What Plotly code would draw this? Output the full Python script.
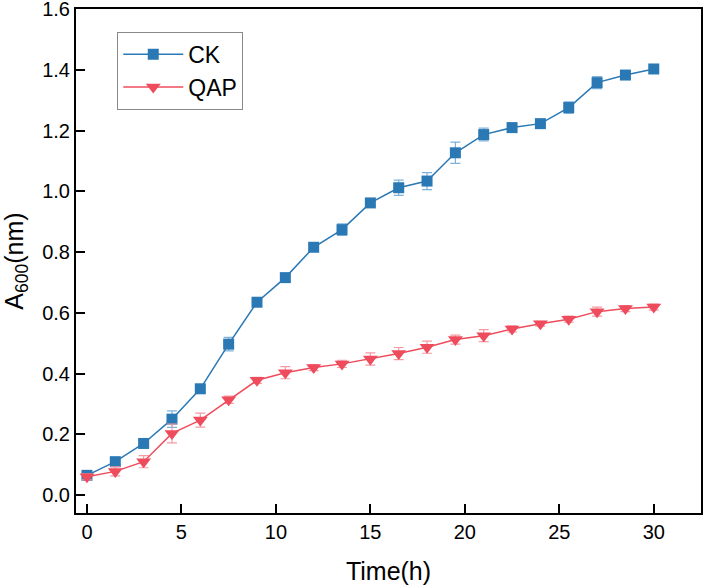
import plotly.graph_objects as go

time_h = [0, 1.5, 3, 4.5, 6, 7.5, 9, 10.5, 12, 13.5, 15, 16.5, 18, 19.5, 21, 22.5, 24, 25.5, 27, 28.5, 30]
ck = [0.065, 0.11, 0.17, 0.25, 0.35, 0.497, 0.635, 0.716, 0.816, 0.874, 0.962, 1.012, 1.034, 1.127, 1.187, 1.21, 1.223, 1.276, 1.358, 1.383, 1.403]
ck_err = [0.01, 0.01, 0.01, 0.027, 0.01, 0.022, 0.008, 0.008, 0.008, 0.019, 0.008, 0.025, 0.028, 0.035, 0.021, 0.008, 0.008, 0.019, 0.02, 0.01, 0.008]
qap = [0.06, 0.078, 0.11, 0.203, 0.247, 0.314, 0.378, 0.403, 0.42, 0.432, 0.448, 0.466, 0.487, 0.512, 0.525, 0.547, 0.564, 0.579, 0.604, 0.614, 0.619]
qap_err = [0.01, 0.015, 0.02, 0.031, 0.023, 0.012, 0.01, 0.02, 0.01, 0.012, 0.02, 0.02, 0.02, 0.015, 0.02, 0.01, 0.008, 0.01, 0.015, 0.01, 0.01]

ck_color = "#2a78b4"
qap_color = "#ee4c5c"

fig = go.Figure()
fig.add_trace(go.Scatter(
    x=time_h, y=ck, name="CK", mode="lines+markers",
    line=dict(color=ck_color, width=1.5),
    marker=dict(symbol="square", size=11, color=ck_color),
    error_y=dict(type="data", array=ck_err, color="#7fb2da", thickness=1.2, width=5),
))
fig.add_trace(go.Scatter(
    x=time_h, y=qap, name="QAP", mode="lines+markers",
    line=dict(color=qap_color, width=1.5),
    marker=dict(symbol="triangle-down", size=13, color=qap_color),
    error_y=dict(type="data", array=qap_err, color="#f59aa3", thickness=1.2, width=5),
))

axis_common = dict(
    showline=True, linecolor="black", linewidth=2, mirror=True,
    ticks="inside", ticklen=9, tickwidth=2, tickcolor="black",
    showgrid=False, zeroline=False, ticklabeloverflow="allow", automargin=False,
    tickfont=dict(family="Liberation Sans, Arial", size=20, color="black"),
)

fig.update_layout(
    width=703, height=586,
    margin=dict(l=76, r=2, t=9, b=73, autoexpand=False),
    paper_bgcolor="white", plot_bgcolor="white",
    font=dict(family="Liberation Sans, Arial", color="black"),
    showlegend=True,
    legend=dict(
        x=0.066, y=0.955, xanchor="left", yanchor="top",
        bordercolor="#888888", borderwidth=1,
        font=dict(size=23, color="black"),
        itemwidth=60, tracegroupgap=0,
    ),
    xaxis=dict(
        range=[-0.58, 32.5], tickvals=[0, 5, 10, 15, 20, 25, 30],
        title=dict(text="Time(h)", font=dict(size=25), standoff=20),
        **axis_common,
    ),
    yaxis=dict(
        range=[-0.059, 1.6005], tickvals=[0, 0.2, 0.4, 0.6, 0.8, 1.0, 1.2, 1.4, 1.6],
        tickformat=".1f",
        title=dict(text="A<sub>600</sub>(nm)", font=dict(size=25), standoff=15),
        **axis_common,
    ),
)

fig.write_html("out.html")
